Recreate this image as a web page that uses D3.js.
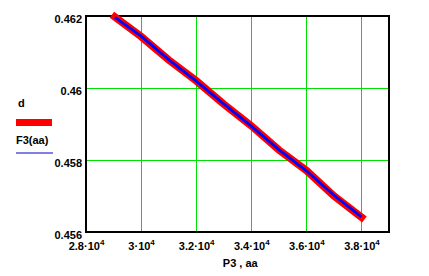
<!DOCTYPE html>
<html>
<head>
<meta charset="utf-8">
<script src="https://cdn.jsdelivr.net/npm/d3@7"></script>
<style>
  body { margin:0; background:#fff; }
  text { font-family: "Liberation Sans", Arial, sans-serif; font-weight: bold; }
</style>
</head>
<body>
<div id="chart-area"></div>
<script>
// values
const aa = [29050, 30000, 31000, 32000, 33000, 34000, 35000, 36000, 37000, 38000];
const d_vals = [0.46197, 0.46143, 0.46078, 0.46020, 0.45955, 0.45895, 0.45828, 0.45771, 0.45700, 0.45641];
const F3_vals = [0.46196, 0.46144, 0.46079, 0.46019, 0.45956, 0.45894, 0.45829, 0.45770, 0.45702, 0.45642];
const x_ticks = [28000, 30000, 32000, 34000, 36000, 38000];
const x_tick_labels = ["2.8", "3", "3.2", "3.4", "3.6", "3.8"];
const y_ticks = [0.456, 0.458, 0.46, 0.462];
const y_tick_labels = ["0.456", "0.458", "0.46", "0.462"];

const margin = {top:16, right:40, bottom:44, left:86},
  width = 389 - margin.left,
  height = 232 - margin.top;

const svg = d3.select("#chart-area")
  .append("svg")
  .attr("width", 429)
  .attr("height", 276);

const g = svg.append("g")
  .attr("transform", "translate("+ margin.left +","+ margin.top +")");

const x = d3.scaleLinear().domain([28000, 39000]).range([0, width]);
const y = d3.scaleLinear().domain([0.456, 0.462]).range([height, 0]);

// grid
g.append("g")
  .attr("class", "grid")
  .call(d3.axisLeft(y).tickValues([0.458, 0.46]).tickSize(-width).tickFormat(""))
  .call(s => s.select(".domain").remove())
  .selectAll("line").attr("stroke", "#00e000").attr("shape-rendering", "crispEdges");

g.append("g")
  .attr("class", "grid")
  .attr("transform", "translate(0," + height + ")")
  .call(d3.axisBottom(x).tickValues(x_ticks.slice(1)).tickSize(-height).tickFormat(""))
  .call(s => s.select(".domain").remove())
  .selectAll("line").attr("stroke", "#00e000").attr("shape-rendering", "crispEdges");

// frame
g.append("rect")
  .attr("width", width).attr("height", height)
  .attr("fill", "none").attr("stroke", "#000").attr("stroke-width", 1.3)
  .attr("shape-rendering", "crispEdges");

// axes labels
const y_axis = g.append("g")
  .call(d3.axisLeft(y).tickValues(y_ticks).tickSize(0).tickPadding(4)
    .tickFormat((d, i) => y_tick_labels[i]));
y_axis.select(".domain").remove();
y_axis.selectAll("text").attr("font-size", "11px").attr("fill", "#000")
  .attr("font-family", "Liberation Sans").attr("dy", "0.55em");

const x_axis = g.append("g")
  .attr("transform", "translate(0," + height + ")")
  .call(d3.axisBottom(x).tickValues(x_ticks).tickSize(0).tickPadding(10).tickFormat(""));
x_axis.select(".domain").remove();
x_axis.selectAll(".tick text")
  .attr("font-size", "11px").attr("fill", "#000").attr("font-family", "Liberation Sans")
  .each(function(d, i) {
    const t = d3.select(this);
    t.append("tspan").text(x_tick_labels[i] + "\u00b710");
    t.append("tspan").attr("font-size", "8px").attr("dy", "-5").text("4");
  });

g.append("text")
  .attr("x", x(33600)).attr("y", height + 35)
  .attr("text-anchor", "middle").attr("font-size", "11px")
  .text("P3 , aa");

// lines
const line_d = d3.line().x((d, i) => x(aa[i])).y(d => y(d));
g.append("path")
  .attr("d", line_d(d_vals))
  .attr("fill", "none").attr("stroke", "#ff0000").attr("stroke-width", 7.5)
  .attr("stroke-linecap", "square");
g.append("path")
  .attr("d", line_d(F3_vals))
  .attr("fill", "none").attr("stroke", "#0000ff").attr("stroke-width", 2.8);

// legend
svg.append("text").attr("x", 18).attr("y", 107).attr("font-size", "11px").text("d");
svg.append("rect").attr("x", 16).attr("y", 119).attr("width", 36).attr("height", 7).attr("fill", "#ff0000");
svg.append("text").attr("x", 16).attr("y", 144).attr("font-size", "11px").text("F3(aa)");
svg.append("line").attr("x1", 16).attr("x2", 53).attr("y1", 153).attr("y2", 153)
  .attr("stroke", "#0000c0").attr("stroke-width", 1);
</script>
</body>
</html>
